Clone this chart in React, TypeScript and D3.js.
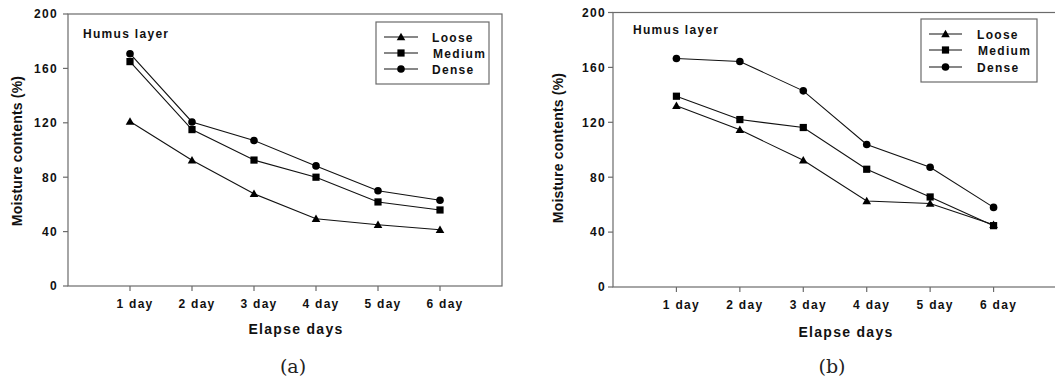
import * as d3 from 'd3';

const days = ['1 day', '2 day', '3 day', '4 day', '5 day', '6 day'];
const yTicks = [0, 40, 80, 120, 160, 200];
const seriesNames = ['Loose', 'Medium', 'Dense'];

// panel (a)
const looseA = [121, 92.5, 67.8, 49.5, 45, 41.4];
const mediumA = [165, 115, 92.6, 80, 61.8, 55.9];
const denseA = [170.8, 120.6, 107, 88.3, 70, 63];

// panel (b)
const looseB = [132, 114.5, 92.3, 62.7, 60.8, 45.4];
const mediumB = [139, 122, 116.2, 85.8, 65.6, 44.7];
const denseB = [166.5, 164.3, 142.9, 103.8, 87.2, 58];

const FONT = '"Liberation Sans", Arial, sans-serif';

interface PanelProps {
  left: number;
  right: number;
  top: number;
  bottom: number;
  values: number[][];
  legend: { x: number; y: number; w: number; h: number; rowY: number[]; lineX1: number; lineX2: number; textX: number };
  humus: { x: number; y: number };
  yLabel: { x: number; y: number };
  xTitle: { x: number; y: number };
  caption: { x: number; y: number; text: string };
  tickLabelRight: number;
}

function Marker({ kind, x, y }: { kind: number; x: number; y: number }) {
  if (kind === 0) {
    const s = 4.3;
    return <path d={`M${x},${y - s}L${x + s},${y + s * 0.75}L${x - s},${y + s * 0.75}Z`} fill="#000" />;
  }
  if (kind === 1) {
    return <rect x={x - 3.6} y={y - 3.6} width={7.2} height={7.2} fill="#000" />;
  }
  return <circle cx={x} cy={y} r={3.8} fill="#000" />;
}

function Panel(p: PanelProps) {
  const x = d3.scaleLinear().domain([0, 7]).range([p.left, p.right]);
  const y = d3.scaleLinear().domain([0, 200]).range([p.bottom, p.top]);
  const line = d3
    .line<number>()
    .x((_d, i) => x(i + 1))
    .y((d) => y(d));
  const axisColor = '#6b6b6b';
  const textStyle = { fontFamily: FONT, fontWeight: 700 as const, letterSpacing: '1.3px' };

  return (
    <g>
      <rect
        x={p.left}
        y={p.top}
        width={p.right - p.left}
        height={p.bottom - p.top}
        fill="none"
        stroke={axisColor}
        strokeWidth={1.2}
      />
      {yTicks.map((t) => (
        <g key={t}>
          <line x1={p.left - 5} x2={p.left} y1={y(t)} y2={y(t)} stroke={axisColor} strokeWidth={1.2} />
          <text x={p.tickLabelRight} y={y(t) + 4.3} textAnchor="end" fontSize={12} fill="#111" style={textStyle}>
            {t}
          </text>
        </g>
      ))}
      {days.map((d, i) => (
        <g key={d}>
          <line x1={x(i + 1)} x2={x(i + 1)} y1={p.bottom} y2={p.bottom + 5} stroke={axisColor} strokeWidth={1.2} />
          <text x={x(i + 1) + 5} y={p.bottom + 22} textAnchor="middle" fontSize={12} fill="#111" style={textStyle}>
            {d}
          </text>
        </g>
      ))}
      {p.values.map((vals, si) => (
        <g key={si}>
          <path d={line(vals) ?? ''} fill="none" stroke="#111" strokeWidth={1.1} />
          {vals.map((v, i) => (
            <Marker key={i} kind={si} x={x(i + 1)} y={y(v)} />
          ))}
        </g>
      ))}
      <text x={p.humus.x} y={p.humus.y} fontSize={12} fill="#111" style={textStyle}>
        Humus layer
      </text>
      <rect x={p.legend.x} y={p.legend.y} width={p.legend.w} height={p.legend.h} fill="#fff" stroke={axisColor} strokeWidth={1.2} />
      {seriesNames.map((name, si) => (
        <g key={name}>
          <line
            x1={p.legend.lineX1}
            x2={p.legend.lineX2}
            y1={p.legend.rowY[si]}
            y2={p.legend.rowY[si]}
            stroke="#111"
            strokeWidth={1.1}
          />
          <Marker kind={si} x={(p.legend.lineX1 + p.legend.lineX2) / 2} y={p.legend.rowY[si]} />
          <text x={p.legend.textX + (si === 1 ? 1 : 0)} y={p.legend.rowY[si] + 4.5} fontSize={12} fill="#111" style={textStyle}>
            {name}
          </text>
        </g>
      ))}
      <text
        transform={`translate(${p.yLabel.x},${p.yLabel.y}) rotate(-90)`}
        textAnchor="middle"
        fontSize={14}
        fill="#111"
        style={{ ...textStyle, letterSpacing: '0.2px' }}
      >
        Moisture contents (%)
      </text>
      <text x={p.xTitle.x} y={p.xTitle.y} textAnchor="middle" fontSize={14} fill="#111" style={textStyle}>
        Elapse days
      </text>
      <text
        x={p.caption.x}
        y={p.caption.y}
        textAnchor="middle"
        fontSize={19}
        fill="#222"
        style={{ fontFamily: '"DejaVu Serif", "Liberation Serif", serif' }}
      >
        {p.caption.text}
      </text>
    </g>
  );
}

export default function App() {
  return (
    <svg
      width={1055}
      height={381}
      viewBox="0 0 1055 381"
      style={{ position: 'absolute', left: 0, top: 0, background: '#fff' }}
    >
      <Panel
        left={68}
        right={502}
        top={14}
        bottom={286}
        values={[looseA, mediumA, denseA]}
        legend={{ x: 376, y: 22, w: 113, h: 62, rowY: [37, 53, 69], lineX1: 384, lineX2: 418, textX: 432 }}
        humus={{ x: 83, y: 38 }}
        yLabel={{ x: 22, y: 151 }}
        xTitle={{ x: 296, y: 334 }}
        caption={{ x: 293, y: 373, text: '(a)' }}
        tickLabelRight={58}
      />
      <Panel
        left={613}
        right={1057}
        top={12.5}
        bottom={287}
        values={[looseB, mediumB, denseB]}
        legend={{ x: 921, y: 19, w: 116, h: 63, rowY: [34, 50, 67], lineX1: 929, lineX2: 962, textX: 977 }}
        humus={{ x: 633, y: 34 }}
        yLabel={{ x: 563, y: 148 }}
        xTitle={{ x: 846, y: 337 }}
        caption={{ x: 832, y: 373, text: '(b)' }}
        tickLabelRight={606}
      />
    </svg>
  );
}
